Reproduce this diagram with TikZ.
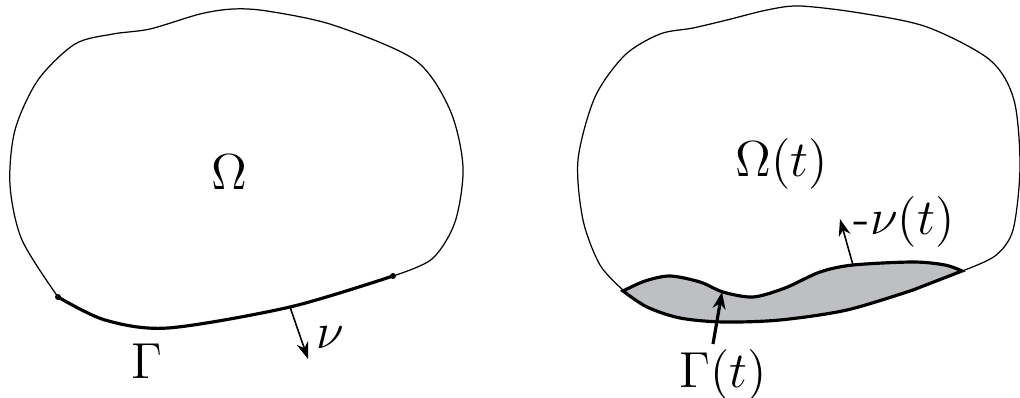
\documentclass[tikz,border=0pt]{standalone}
\usepackage{amsmath,amssymb}
\usepackage{xcolor}
\usepackage{tikz}
\usetikzlibrary{arrows.meta,positioning}

\definecolor{regiongray}{RGB}{190,191,194}

\begin{document}
\begin{tikzpicture}[
    x=0.1mm, y=-0.1mm,
    font=\Large,
    outline/.style={draw=black, line width=0.35pt},
    boundary/.style={draw=black, line width=0.9pt},
    region/.style={fill=regiongray, draw=black, line width=0.9pt},
    arrow/.style={-{Stealth[length=1.7mm, width=1.2mm]}, line width=0.45pt},
    bigarrow/.style={-{Stealth[length=1.7mm, width=1.3mm]}, line width=0.9pt},
    enddot/.style={fill=black, circle, inner sep=0pt, minimum size=0.6mm}
]
    \useasboundingbox (0,0) rectangle (1020,398);

    % left domain
    \draw[outline] plot[smooth] coordinates {(393,276) (432,259) (455,222) (463,167) (450,110) (415,60) (333,25) (267,11) (233,9) (200,14) (150,29) (113,34) (75,44) (38,80) (15,130) (10,185) (22,240) (58,297)};
    \draw[boundary] plot[smooth] coordinates {(58,297) (105,320) (168,328) (290,307) (393,276)};
    \node[enddot] (g1) at (58,297) {};
    \node[enddot] (g2) at (393,276) {};

    \node (omega) at (229,172) {$\Omega$};
    \node (gamma) at (147,361) {$\Gamma$};
    \node (nu) at (330,338) {$\nu$};

    \coordinate (nufoot) at (290,307);
    \coordinate (nutip) at (308,359);
    \draw[arrow] (nufoot) -- (nutip);

    % right domain
    \draw[outline] plot[smooth] coordinates {(962,271) (995,256) (1013,230) (1020,167) (1014,100) (990,60) (927,27) (860,13) (800,6) (767,10) (727,20) (693,28) (660,34) (625,55) (595,97) (578,160) (583,220) (600,265) (623,290)};
    \draw[region] plot[smooth] coordinates {(623,291) (645,281) (670,276) (700,282) (723,292) (753,297) (785,288) (820,272) (853,265) (913,262) (945,265) (962,271)}
        -- plot[smooth] coordinates {(913,290) (847,310) (780,320) (723,322) (680,318) (647,307) (623,291)} -- cycle;

    \node (omegat) at (782,164) {$\Omega(t)$};
    \node (mnut) at (904,222) {-$\nu(t)$};
    \node (gammat) at (723,375) {$\Gamma(t)$};

    \coordinate (mnufoot) at (853,265);
    \coordinate (mnutip) at (840,219);
    \draw[arrow] (mnufoot) -- (mnutip);

    \coordinate (gtfoot) at (713,344);
    \coordinate (gttip) at (722,292);
    \draw[bigarrow] (gtfoot) -- (gttip);

\end{tikzpicture}
\end{document}
